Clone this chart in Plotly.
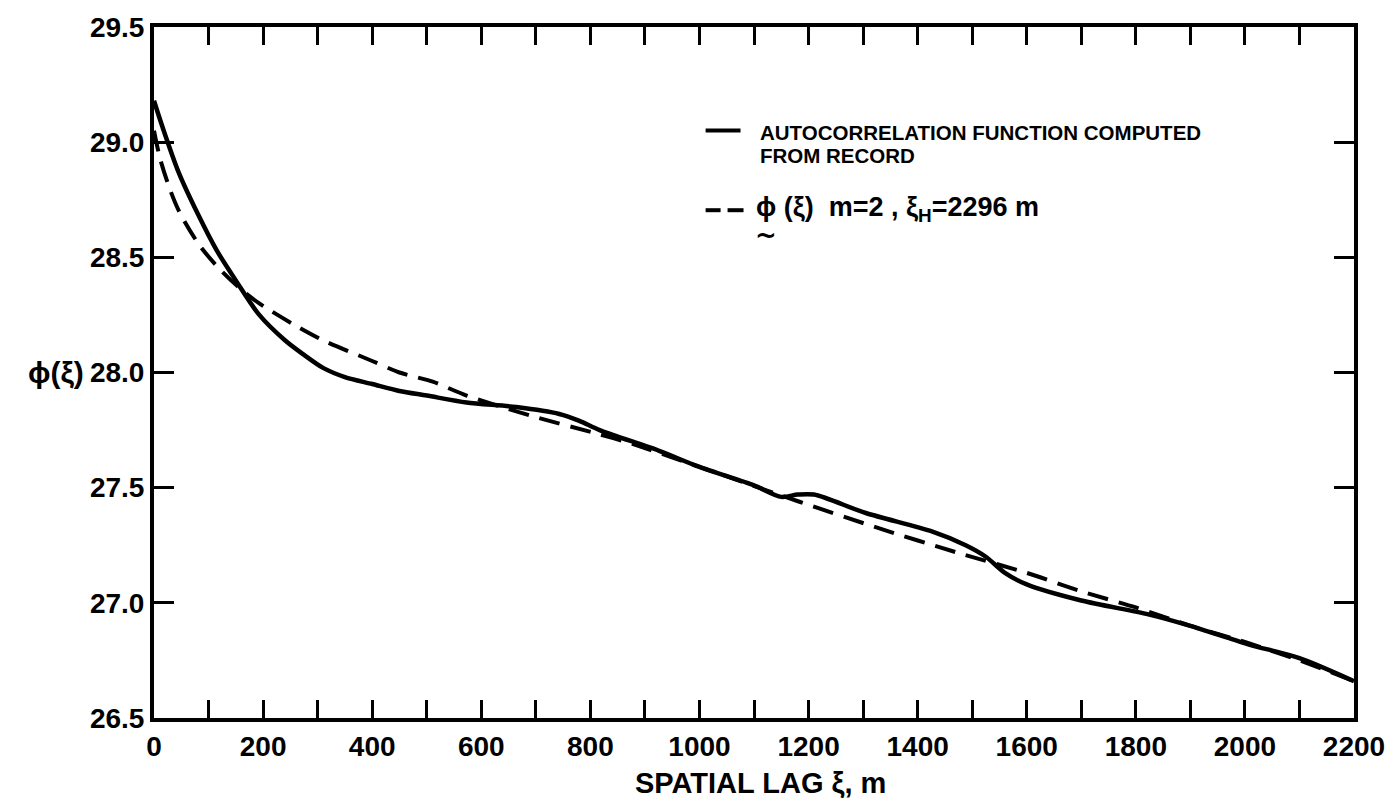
import plotly.graph_objects as go

# Autocorrelation function computed from record (solid)
x_solid = [0, 15, 45, 80, 115, 150, 193, 240, 273, 310, 350, 400, 450, 500, 573, 664,
           743, 780, 817, 926, 1000, 1100, 1150, 1180, 1210, 1305, 1426, 1488, 1525,
           1560, 1600, 1700, 1823, 1900, 2006, 2100, 2200]
y_solid = [29.18, 29.07, 28.87, 28.69, 28.53, 28.40, 28.25, 28.14, 28.08, 28.02, 27.98,
           27.95, 27.92, 27.90, 27.87, 27.85, 27.82, 27.79, 27.75, 27.66, 27.59, 27.51,
           27.46, 27.47, 27.47, 27.39, 27.31, 27.25, 27.20, 27.13, 27.08, 27.01, 26.95,
           26.90, 26.82, 26.76, 26.66]

# Model phi(xi), m=2, xi_H=2296 m (dashed)
x_dash = [0, 11, 30, 48, 84, 120, 160, 193, 255, 310, 400, 450, 511, 573, 694, 804,
          877, 1000, 1182, 1334, 1470, 1600, 1700, 1800, 1900, 2000, 2100, 2200]
y_dash = [29.05, 28.93, 28.79, 28.69, 28.55, 28.45, 28.36, 28.30, 28.21, 28.14, 28.05,
          28.00, 27.96, 27.90, 27.81, 27.74, 27.69, 27.59, 27.44, 27.32, 27.22, 27.13,
          27.05, 26.98, 26.90, 26.83, 26.75, 26.66]

y_tickvals = [26.5, 27.0, 27.5, 28.0, 28.5, 29.0, 29.5]
y_ticktext = ["26.5", "27.0", "27.5", "28.0", "28.5", "29.0", "29.5"]

FONT = "Liberation Sans"
L, R, T, B = 154, 1357, 24, 718
PW, PH = R - L, B - T


def px(xp):
    return (xp - L) / PW


def py(yp):
    return (B - yp) / PH


fig = go.Figure()
fig.add_trace(go.Scatter(x=x_solid, y=y_solid, mode="lines", line_shape="spline",
                         line=dict(color="black", width=4.5, smoothing=0.8),
                         showlegend=False))
fig.add_trace(go.Scatter(x=x_dash, y=y_dash, mode="lines", line_shape="spline",
                         line=dict(color="black", width=4, dash="21px,11px",
                                   smoothing=0.8),
                         showlegend=False))

axis_common = dict(showgrid=False, zeroline=False, showline=True, linecolor="black",
                   linewidth=4, ticks="inside", tickcolor="black", tickwidth=3,
                   mirror="ticks",
                   tickfont=dict(family=FONT, size=28, color="black", weight="bold"))

fig.update_xaxes(range=[0, 2200], tick0=0, dtick=200, ticklen=18,
                 minor=dict(dtick=100, ticks="inside", ticklen=18, tickcolor="black",
                            tickwidth=3, showgrid=False),
                 **axis_common)
fig.update_yaxes(range=[26.5, 29.5], tickvals=y_tickvals, ticktext=y_ticktext,
                 ticklen=20, **axis_common)

ann_font = dict(family=FONT, size=20.5, color="black", weight="bold")
annotations = [
    dict(text="SPATIAL LAG ξ, m", xref="paper", yref="paper", x=px(762), y=py(783),
         xanchor="center", yanchor="middle", showarrow=False,
         font=dict(family=FONT, size=29, color="black", weight="bold")),
    dict(text="ϕ(ξ)", xref="paper", yref="y", x=0, y=28.0, xshift=-68,
         xanchor="right", yanchor="middle", showarrow=False,
         font=dict(family=FONT, size=30, color="black", weight="bold")),
    dict(text="AUTOCORRELATION FUNCTION COMPUTED", xref="paper", yref="paper",
         x=px(760), y=py(130), xanchor="left", yanchor="middle", showarrow=False,
         font=ann_font),
    dict(text="FROM RECORD", xref="paper", yref="paper",
         x=px(760), y=py(153), xanchor="left", yanchor="middle", showarrow=False,
         font=ann_font),
    dict(text="ϕ (ξ)  m=2 , ξ<sub>H</sub>=2296 m", xref="paper", yref="paper",
         x=px(756), y=py(207), xanchor="left", yanchor="middle", align="left",
         showarrow=False,
         font=dict(family=FONT, size=27, color="black", weight="bold")),
    dict(text="~", xref="paper", yref="paper", x=px(768), y=py(233),
         xanchor="center", yanchor="middle", showarrow=False,
         font=dict(family="DejaVu Sans", size=26, color="black", weight="bold")),
]

shapes = [
    dict(type="line", xref="paper", yref="paper", x0=px(707), x1=px(742),
         y0=py(128), y1=py(128), line=dict(color="black", width=4)),
    dict(type="line", xref="paper", yref="paper", x0=px(707), x1=px(722),
         y0=py(208), y1=py(208), line=dict(color="black", width=4)),
    dict(type="line", xref="paper", yref="paper", x0=px(729), x1=px(745),
         y0=py(208), y1=py(208), line=dict(color="black", width=4)),
]

fig.update_layout(width=1397, height=804, paper_bgcolor="white", plot_bgcolor="white",
                  margin=dict(l=L, r=1397 - R, t=T, b=804 - B),
                  annotations=annotations, shapes=shapes)

fig.write_html("out.html")
